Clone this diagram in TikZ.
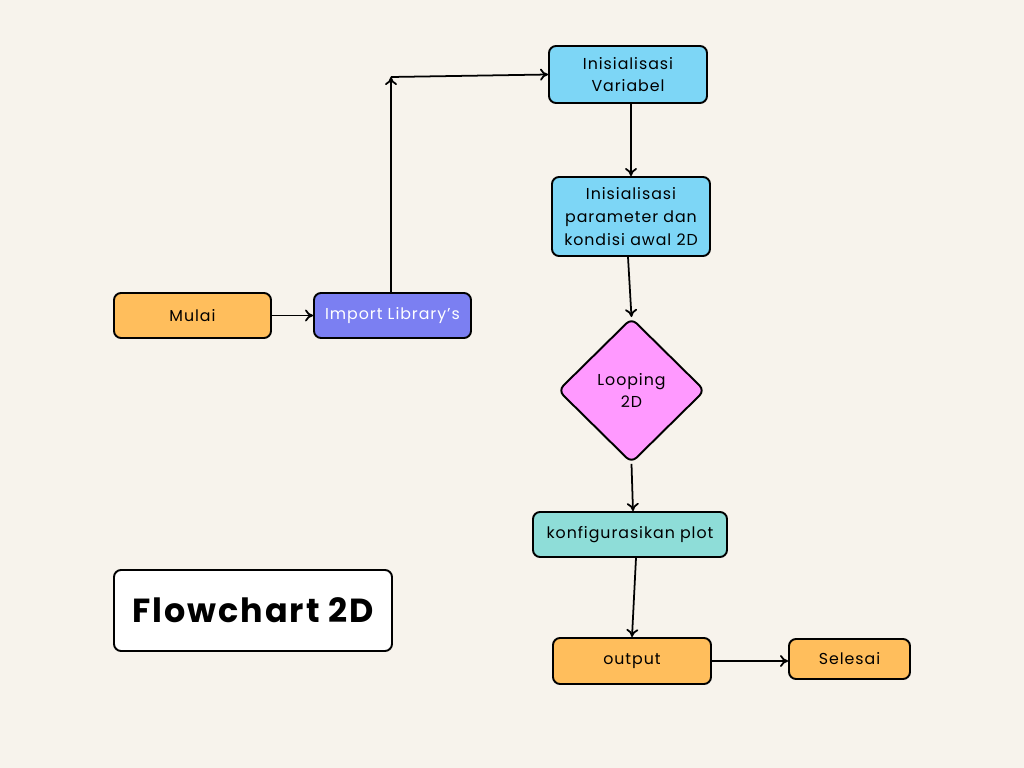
\documentclass[tikz,border=0pt]{standalone}
\usepackage{fontspec}
\setmainfont{Poppins}[LetterSpace=6]
\usetikzlibrary{shapes.geometric,arrows.meta}
\definecolor{bgcol}{HTML}{F7F3EC}
\definecolor{orangebox}{HTML}{FFBE5C}
\definecolor{violetbox}{HTML}{7B7FF2}
\definecolor{bluebox}{HTML}{7DD6F6}
\definecolor{pinkbox}{HTML}{FF99FF}
\definecolor{tealbox}{HTML}{8EDDD8}

\begin{document}
\begin{tikzpicture}[
    box/.style={draw=black, line width=1.1pt, rounded corners=4pt, inner sep=0, align=center, font=\fontsize{9}{13}\selectfont},
    arr/.style={line width=1pt, -{To[length=1.6mm,width=2.4mm]}}
  ]
      \fill[bgcol] (0,0) rectangle (20.48,-15.36);
      \useasboundingbox (0,0) rectangle (20.48,-15.36);
      \node[box, fill=orangebox, minimum width=3.14cm, minimum height=0.9cm] (mulai) at (3.85,-6.31) {Mulai};
      \node[box, fill=violetbox, text=white, minimum width=3.14cm, minimum height=0.9cm] (import) at (7.85,-6.31) {Import Library’s};
      \node[box, fill=bluebox, minimum width=3.16cm, minimum height=1.14cm] (var) at (12.56,-1.49) {Inisialisasi\\Variabel};
      \node[box, fill=bluebox, minimum width=3.16cm, minimum height=1.58cm] (param) at (12.62,-4.33) {Inisialisasi\\parameter dan\\kondisi awal 2D};
      \node[box, diamond, fill=pinkbox, minimum width=2.94cm, minimum height=2.9cm] (loop) at (12.63,-7.81) {Looping\\2D};
      \node[box, fill=tealbox, minimum width=3.88cm, minimum height=0.9cm] (konfig) at (12.6,-10.69) {konfigurasikan plot};
      \node[box, fill=orangebox, minimum width=3.16cm, minimum height=0.92cm] (output) at (12.64,-13.22) {output};
      \node[box, fill=orangebox, minimum width=2.42cm, minimum height=0.8cm] (selesai) at (16.99,-13.18) {Selesai};
      \node[box, fill=white, minimum width=5.56cm, minimum height=1.62cm, font=\fontsize{19}{23}\selectfont\bfseries] (judul) at (5.06,-12.21) {Flowchart 2D};
      \coordinate (belok) at (7.82,-1.54);
      \draw[arr] (mulai) -- (import);
      \draw[arr] (import.north -| belok) -- (belok);
      \draw[arr] (belok) -- (var.west);
      \draw[arr] (var.south -| param.north) -- (param.north);
      \draw[arr] ([xshift=-0.06cm]param.south) -- (loop.north);
      \draw[arr] (loop.south) -- ([xshift=0.06cm]konfig.north);
      \draw[arr] ([xshift=0.12cm]konfig.south) -- (output.north);
      \draw[arr] (output.east) -- (selesai.west |- output.east);
    \end{tikzpicture}
\end{document}
